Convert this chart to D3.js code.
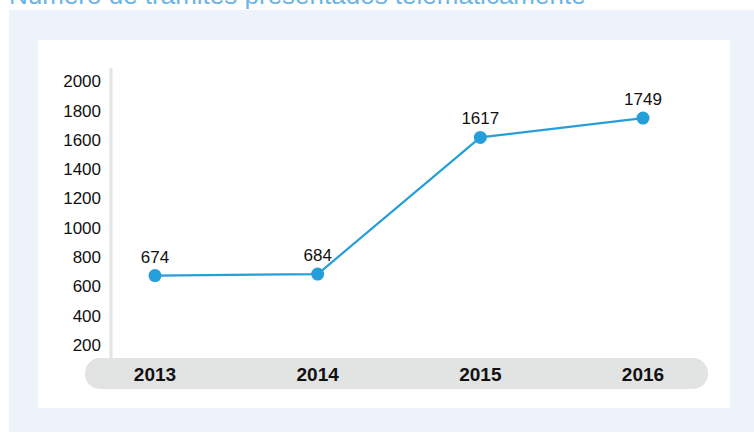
<!DOCTYPE html>
<html>
<head>
<meta charset="utf-8">
<script src="https://cdn.jsdelivr.net/npm/d3@7"></script>
<style>
  body { margin: 0; background: #fff; }
  svg { display: block; font-family: "Liberation Sans", Arial, Helvetica, sans-serif; }
</style>
</head>
<body>
<div id="chart"></div>
<script>
const years = ["2013", "2014", "2015", "2016"];
const tramites = [674, 684, 1617, 1749];
const yTicks = [200, 400, 600, 800, 1000, 1200, 1400, 1600, 1800, 2000];

const width = 754, height = 435;

const svg = d3.select("#chart")
  .append("svg")
  .attr("width", width)
  .attr("height", height);

// outer panel and white card
svg.append("rect")
  .attr("x", 9).attr("y", 10)
  .attr("width", width - 9).attr("height", 422)
  .attr("fill", "#eef3fb");

svg.append("rect")
  .attr("x", 38).attr("y", 40)
  .attr("width", 692).attr("height", 368)
  .attr("fill", "#ffffff");

// title, cut at the top edge
svg.append("text")
  .attr("x", 9).attr("y", 4)
  .attr("fill", "#6cb5e5")
  .attr("font-size", 26)
  .text("Número de trámites presentados telemáticamente");

const x = d3.scalePoint()
  .domain(years)
  .range([155, 643]);

const y = d3.scaleLinear()
  .domain([0, 2000])
  .range([374.3, 81.3]);

// year band
svg.append("rect")
  .attr("x", 85).attr("y", 358)
  .attr("width", 623).attr("height", 31)
  .attr("rx", 15).attr("ry", 15)
  .attr("fill", "#e2e3e3");

// y axis line
svg.append("line")
  .attr("x1", 111).attr("x2", 111)
  .attr("y1", 68).attr("y2", 358)
  .attr("stroke", "#e2e3e3")
  .attr("stroke-width", 3);

svg.append("g")
  .selectAll("text")
  .data(yTicks)
  .join("text")
  .attr("x", 101)
  .attr("y", d => y(d))
  .attr("dy", "0.35em")
  .attr("text-anchor", "end")
  .attr("font-size", 17)
  .attr("fill", "#111")
  .text(d => d);

svg.append("g")
  .selectAll("text")
  .data(years)
  .join("text")
  .attr("x", d => x(d))
  .attr("y", 374)
  .attr("dy", "0.35em")
  .attr("text-anchor", "middle")
  .attr("font-size", 19)
  .attr("font-weight", "bold")
  .attr("fill", "#111")
  .text(d => d);

const data = years.map((yr, i) => ({year: yr, value: tramites[i]}));

const line = d3.line()
  .x(d => x(d.year))
  .y(d => y(d.value));

svg.append("path")
  .datum(data)
  .attr("d", line)
  .attr("fill", "none")
  .attr("stroke", "#259fd9")
  .attr("stroke-width", 2.2);

svg.append("g")
  .selectAll("circle")
  .data(data)
  .join("circle")
  .attr("cx", d => x(d.year))
  .attr("cy", d => y(d.value))
  .attr("r", 6.5)
  .attr("fill", "#259fd9");

svg.append("g")
  .selectAll("text")
  .data(data)
  .join("text")
  .attr("x", d => x(d.year))
  .attr("y", d => y(d.value) - 13)
  .attr("text-anchor", "middle")
  .attr("font-size", 17)
  .attr("fill", "#111")
  .text(d => d.value);
</script>
</body>
</html>
